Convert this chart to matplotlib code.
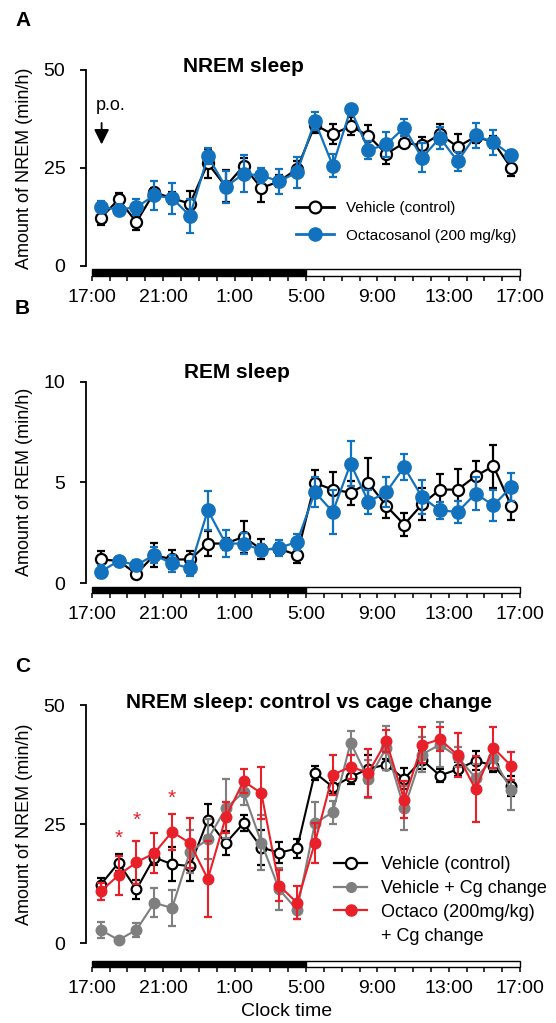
import matplotlib
matplotlib.use("Agg")
import matplotlib.pyplot as plt
from matplotlib.patches import Rectangle
from matplotlib.lines import Line2D

plt.rcParams['font.family'] = ['Liberation Sans', 'DejaVu Sans']

# ---------------- data ----------------
hours = [h + 0.5 for h in range(24)]          # hourly bins starting 17:00
tick_labels = ['17:00', '21:00', '1:00', '5:00', '9:00', '13:00', '17:00']

nrem_veh = [12.2, 17.0, 11.2, 18.8, 17.3, 15.9, 26.2, 20.3, 25.5, 19.9, 21.6, 24.8,
            36.0, 33.6, 35.7, 33.2, 28.6, 31.4, 30.8, 33.6, 30.4, 33.0, 31.6, 25.0]
nrem_veh_err = [1.7, 1.7, 2.1, 1.0, 1.5, 3.2, 3.7, 4.1, 2.1, 3.7, 1.5, 1.9,
                2.0, 2.6, 2.3, 2.7, 2.6, 1.0, 2.0, 2.6, 3.2, 1.5, 1.5, 2.0]
nrem_oct = [15.0, 14.4, 15.0, 18.0, 17.3, 12.8, 28.0, 20.2, 23.5, 23.1, 21.6, 23.9,
            37.0, 25.6, 40.0, 29.6, 31.0, 35.3, 27.6, 32.7, 26.7, 33.3, 31.6, 28.2]
nrem_oct_err = [1.5, 1.5, 2.1, 3.7, 4.0, 4.3, 2.1, 4.1, 4.7, 2.0, 3.2, 4.0,
                2.3, 2.9, 1.0, 2.2, 3.2, 2.2, 3.7, 2.8, 2.4, 3.2, 3.2, 1.5]

rem_veh = [1.17, 1.1, 0.45, 1.39, 1.17, 1.17, 1.96, 1.96, 2.29, 1.67, 1.7, 1.39,
           4.97, 4.64, 4.49, 4.97, 3.83, 2.9, 3.91, 4.64, 4.64, 5.31, 5.81, 3.83]
rem_veh_err = [0.41, 0.2, 0.2, 0.6, 0.46, 0.41, 0.62, 0.3, 0.8, 0.5, 0.3, 0.38,
               0.66, 0.87, 0.6, 1.25, 0.58, 0.58, 0.8, 0.75, 1.0, 0.74, 1.07, 0.7]
rem_oct = [0.56, 1.1, 0.89, 1.39, 0.97, 0.73, 3.61, 1.96, 1.96, 1.63, 1.75, 2.04,
           4.52, 3.53, 5.93, 4.03, 4.52, 5.76, 4.27, 3.61, 3.53, 4.44, 3.86, 4.77]
rem_oct_err = [0.33, 0.2, 0.25, 0.4, 0.4, 0.38, 0.96, 0.68, 0.5, 0.3, 0.4, 0.38,
               0.76, 1.1, 1.12, 0.6, 0.74, 0.63, 0.86, 0.41, 0.54, 0.83, 0.78, 0.71]

cg_veh = [12.3, 16.9, 11.3, 18.0, 16.6, 16.2, 25.9, 21.0, 25.2, 20.1, 19.0, 19.9,
          35.8, 32.8, 34.9, 36.6, 37.5, 34.5, 38.5, 35.2, 36.5, 38.3, 37.3, 33.1]
cg_veh_err = [1.4, 1.8, 2.0, 1.5, 3.6, 3.1, 3.3, 2.5, 1.7, 3.7, 2.2, 2.0,
              1.5, 1.5, 1.5, 2.9, 1.2, 2.2, 1.9, 1.3, 1.5, 2.0, 1.3, 2.1]
cg_gray = [2.8, 0.7, 2.8, 8.5, 7.4, 19.2, 21.8, 28.3, 31.7, 21.1, 11.3, 7.0,
           25.2, 27.5, 42.1, 34.4, 41.0, 28.3, 39.6, 41.7, 39.1, 34.7, 38.8, 32.1]
cg_gray_err = [1.7, 0.5, 1.4, 3.0, 3.7, 4.5, 4.2, 6.2, 2.7, 5.8, 4.4, 2.0,
               4.4, 2.4, 2.5, 4.0, 4.6, 4.6, 3.7, 4.8, 2.1, 3.0, 2.3, 4.2]
cg_red = [10.9, 14.3, 17.0, 18.9, 23.4, 21.0, 13.5, 26.4, 34.0, 31.5, 12.1, 8.5,
          21.1, 35.4, 37.0, 35.8, 42.4, 30.1, 41.6, 42.8, 39.5, 32.3, 41.0, 37.2]
cg_red_err = [1.8, 4.1, 4.5, 4.2, 3.8, 5.3, 7.9, 3.3, 2.5, 5.5, 3.2, 3.5,
              4.2, 4.2, 2.6, 5.0, 2.3, 3.9, 3.7, 2.5, 4.7, 6.9, 4.3, 3.0]

star_hours = [1.5, 2.5, 4.5]
star_y = [22.0, 25.7, 30.4]

BLUE = '#1372bd'
RED = '#e8202a'
GRAY = '#7f7f7f'

W, H = 556, 1023
fig = plt.figure(figsize=(W / 100, H / 100), dpi=100)

x_left_px = 85.9
px_per_h = 17.85
xlim = (-0.33, 24.3)
ax_w = (xlim[1] - xlim[0]) * px_per_h


def make_ax(top_px, bot_px, ylim, yticks, outward_pt, bar_px):
    ax = fig.add_axes([x_left_px / W, (H - bot_px) / H, ax_w / W, (bot_px - top_px) / H])
    ax.set_xlim(*xlim)
    ax.set_ylim(*ylim)
    ax.set_yticks(yticks)
    for s in ['top', 'right', 'bottom']:
        ax.spines[s].set_visible(False)
    ax.spines['left'].set_linewidth(1.3)
    ax.spines['bottom'].set_position(('outward', outward_pt))
    ax.set_xticks(range(25))
    labs = [''] * 25
    for i, t in enumerate(tick_labels):
        labs[i * 4] = t
    ax.set_xticklabels(labs)
    ax.tick_params(axis='x', direction='out', length=3.3, width=1.1, labelsize=14, pad=6)
    ax.tick_params(axis='y', direction='out', length=4.3, width=1.3, labelsize=14, pad=10.5)
    hpx = bot_px - top_px
    y0 = -bar_px[1] / hpx
    y1 = -bar_px[0] / hpx
    tr = ax.get_xaxis_transform()
    ax.add_patch(Rectangle((0, y0), 12, y1 - y0, transform=tr, facecolor='black',
                           edgecolor='black', lw=1.0, clip_on=False))
    ax.add_patch(Rectangle((12, y0), 12, y1 - y0, transform=tr, facecolor='white',
                           edgecolor='black', lw=1.0, clip_on=False))
    return ax


def series(ax, y, err, color, face, ms, lw=1.6, z=3):
    ax.errorbar(hours, y, yerr=err, color=color, marker='o', ms=ms, mfc=face,
                mec=color, mew=1.6, lw=lw, elinewidth=lw, capsize=3.2, capthick=lw,
                zorder=z, clip_on=False)


# ---------------- Panel A ----------------
axA = make_ax(70, 266, (0, 50), [0, 25, 50], 7.0, (3.3, 9.7))
series(axA, nrem_veh, nrem_veh_err, 'black', 'white', 8, z=3)
series(axA, nrem_oct, nrem_oct_err, BLUE, BLUE, 9, z=4)
axA.annotate('', xy=(0.55, 30.3), xytext=(0.55, 37.2),
             arrowprops=dict(arrowstyle='-|>,head_length=0.9,head_width=0.45',
                             color='black', lw=1.3))
axA.text(0.2, 41.0, 'p.o.', fontsize=13, ha='left', va='center')
fig.text(243 / W, 1 - 67 / H, 'NREM sleep', fontsize=15, fontweight='bold',
         ha='center', va='center')
hA = [Line2D([], [], color='black', marker='o', mfc='white', mec='black', ms=8.5, lw=2, mew=1.6),
      Line2D([], [], color=BLUE, marker='o', mfc=BLUE, mec=BLUE, ms=9.5, lw=2)]
fig.legend(hA, ['Vehicle (control)', 'Octacosanol (200 mg/kg)'], loc='upper left',
           bbox_to_anchor=(296 / W, 1 - 201 / H), frameon=False, fontsize=11,
           handlelength=2.5, handletextpad=0.75, labelspacing=0.9, borderpad=0,
           borderaxespad=0)

# ---------------- Panel B ----------------
axB = make_ax(381.7, 583, (0, 10), [0, 5, 10], 7.4, (4.3, 10.3))
series(axB, rem_veh, rem_veh_err, 'black', 'white', 8, z=3)
series(axB, rem_oct, rem_oct_err, BLUE, BLUE, 9, z=4)
fig.text(237 / W, 1 - 373 / H, 'REM sleep', fontsize=15, fontweight='bold',
         ha='center', va='center')

# ---------------- Panel C ----------------
axC = make_ax(705, 943.3, (0, 50), [0, 25, 50], 16.8, (17.4, 23.4))
series(axC, cg_veh, cg_veh_err, 'black', 'white', 7, lw=1.5, z=3)
series(axC, cg_gray, cg_gray_err, GRAY, GRAY, 7, lw=1.5, z=4)
series(axC, cg_red, cg_red_err, RED, RED, 7, lw=1.5, z=5)
for xs, ys in zip(star_hours, star_y):
    axC.text(xs, ys, '*', color=RED, fontsize=15, ha='center', va='center')
fig.text(309 / W, 1 - 702 / H, 'NREM sleep: control vs cage change', fontsize=15,
         fontweight='bold', ha='center', va='center')
hC = [Line2D([], [], color='black', marker='o', mfc='white', mec='black', ms=8, lw=1.6, mew=1.6),
      Line2D([], [], color=GRAY, marker='o', mfc=GRAY, mec=GRAY, ms=7, lw=1.6),
      Line2D([], [], color=RED, marker='o', mfc=RED, mec=RED, ms=8, lw=1.6),
      Line2D([], [], color='none')]
fig.legend(hC, ['Vehicle (control)', 'Vehicle + Cg change', 'Octaco (200mg/kg)', '+ Cg change'],
           loc='upper left', bbox_to_anchor=(334 / W, 1 - 856 / H), frameon=False,
           fontsize=13, handlelength=1.85, handletextpad=0.75, labelspacing=0.38,
           borderpad=0, borderaxespad=0)
fig.text(287 / W, 1 - 1012 / H, 'Clock time', fontsize=14, ha='center', va='center')

# y labels and panel letters
fig.text(25 / W, 1 - 168 / H, 'Amount of NREM (min/h)', rotation=90, fontsize=13,
         ha='center', va='center')
fig.text(25 / W, 1 - 482 / H, 'Amount of REM (min/h)', rotation=90, fontsize=13,
         ha='center', va='center')
fig.text(25 / W, 1 - 824 / H, 'Amount of NREM (min/h)', rotation=90, fontsize=13,
         ha='center', va='center')
for lab, yy in [('A', 20), ('B', 308), ('C', 667)]:
    fig.text(15 / W, 1 - yy / H, lab, fontsize=15, fontweight='bold', ha='left', va='center')

fig.savefig('out.png', dpi=100)
